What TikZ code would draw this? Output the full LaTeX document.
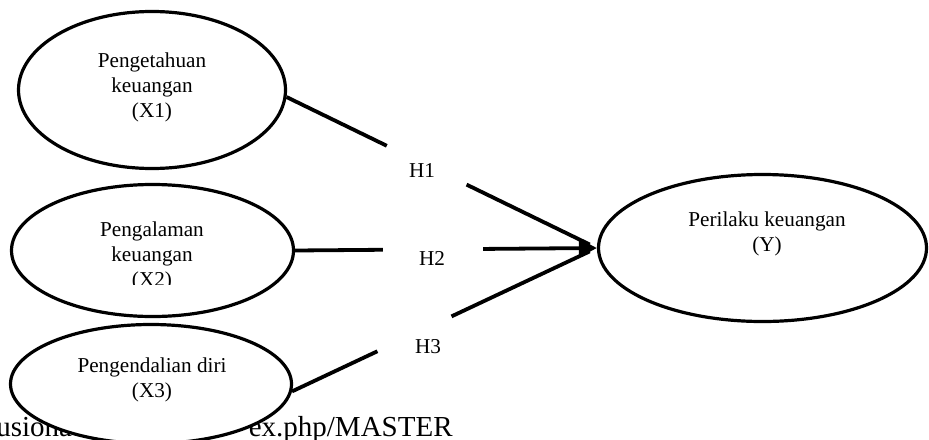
\documentclass[tikz,border=0pt]{standalone}
\usepackage{fontspec}
\setmainfont{Liberation Serif}
\usetikzlibrary{shapes.geometric,arrows.meta,calc}
\begin{document}
\begin{tikzpicture}[x=0.5pt,y=-0.5pt,
  latent/.style={draw,ellipse,line width=1.6pt,fill=white,inner sep=0pt},
  lbl/.style={font=\fontsize{10.6}{12.5}\selectfont,align=center,inner sep=0pt},
  foot/.style={font=\fontsize{14.5}{17}\selectfont,inner sep=0pt},
  conn/.style={line width=1.9pt},
  tipline/.style={conn,-{Triangle[length=9pt,width=9pt]}}]
\clip (0,0) rectangle (929,439);
% page text partly hidden behind X3
\node[foot,anchor=base west] (f1) at (-4,436) {usiona};
\node[foot,anchor=base east] (f2) at (453,436) {ex.php/MASTER};
% latent variables
\node[latent,minimum width=133.5pt,minimum height=78.5pt] (x1) at (152,90) {};
\node[latent,minimum width=141pt,minimum height=66pt] (x2) at (152.5,250.5) {};
\node[latent,minimum width=140.5pt,minimum height=59.5pt] (x3) at (151,384) {};
\node[latent,minimum width=164pt,minimum height=73.5pt] (y) at (762.5,248) {};
% texts
\node[lbl] (t1) at (152,87) {Pengetahuan\\keuangan\\(X1)};
\begin{scope}
\clip (0,0) rectangle (929,284);
\node[lbl] (t2) at (152,256) {Pengalaman\\keuangan\\(X2)};
\end{scope}
\node[lbl] (t3) at (152,380) {Pengendalian diri\\(X3)};
\node[lbl] (ty) at (767,234) {Perilaku keuangan\\(Y)};
\node[lbl] (h1) at (422,170) {H1};
\node[lbl] (h2) at (432,258) {H2};
\node[lbl] (h3) at (428,347) {H3};
% connectors (broken around the H labels)
\draw[conn] (x1.-3) -- ($(x1.-3)!0.323!(y.west)$);
\draw[conn,shorten >=4pt] ($(x1.-3)!0.58!(y.west)$) -- (y.west);
\draw[conn] (x2.east) -- ($(x2.east)!0.291!(y.west)$);
\draw[tipline] ($(x2.east)!0.623!(y.west)$) -- (y.west);
\draw[conn] (x3.-3) -- ($(x3.-3)!0.28!(y.west)$);
\draw[conn,shorten >=4pt] ($(x3.-3)!0.523!(y.west)$) -- (y.west);
\end{tikzpicture}
\end{document}
